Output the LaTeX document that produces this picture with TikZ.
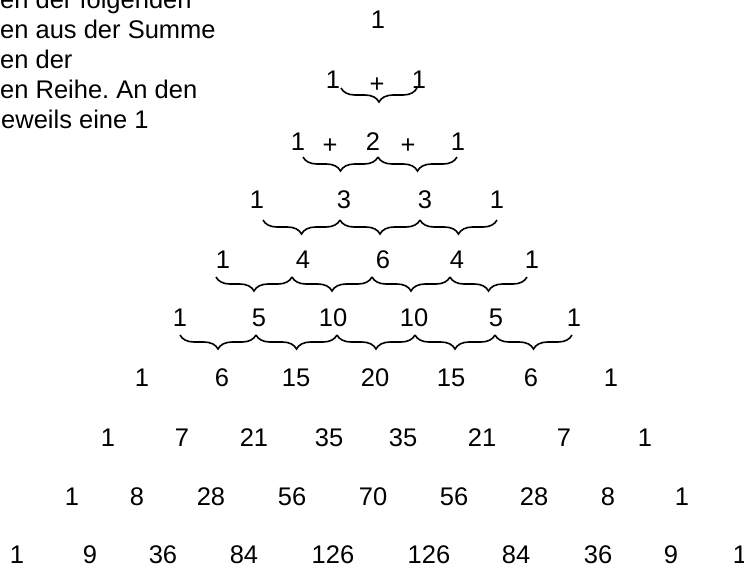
\documentclass[tikz,border=0pt]{standalone}
\usepackage{fontspec}
\setmainfont{Liberation Sans}
\usetikzlibrary{decorations.pathreplacing}
\frenchspacing

\begin{document}
\begin{tikzpicture}[x=1pt, y=-1pt,
    zahl/.style={inner sep=0pt, font=\fontsize{25.5}{29}\selectfont},
    erkl/.style={inner sep=0pt, anchor=base west, font=\fontsize{25.5}{29}\selectfont},
    klammer/.style={decorate, decoration={brace, mirror, amplitude=14pt}, line width=1.6pt}]
    \useasboundingbox (0,0) rectangle (744,566);
    \clip (0,0) rectangle (744,566);

    % Erklaerung (links oben, abgeschnitten)
    \node[erkl] (t1) at (0,8) {en der folgenden};
    \node[erkl] (t2) at (0,38) {en aus der Summe};
    \node[erkl] (t3) at (0,68) {en der};
    \node[erkl] (t4) at (0,98) {en Reihe. An den};
    \node[erkl] (t5) at (1,128) {eweils eine 1};

    % Reihe 0
    \node[zahl] (r0-1) at (378,20) {1};

    % Reihe 1
    \node[zahl] (r1-1) at (333,80) {1};
    \node[zahl] (p1-1) at (377,85) {+};
    \node[zahl] (r1-2) at (419,80) {1};
    \draw[klammer] (341,88) -- (417,88);

    % Reihe 2
    \node[zahl] (r2-1) at (298,142) {1};
    \node[zahl] (p2-1) at (330,146) {+};
    \node[zahl] (r2-2) at (373,142) {2};
    \node[zahl] (p2-2) at (408,146) {+};
    \node[zahl] (r2-3) at (458,142) {1};
    \foreach \a/\b in {303/378, 378/457}
        \draw[klammer] (\a,157) -- (\b,157);

    % Reihe 3
    \foreach \x/\z [count=\i] in {257/1, 344/3, 425/3, 497/1}
        \node[zahl] (r3-\i) at (\x,200) {\z};
    \foreach \a/\b in {263/340, 340/420, 420/497}
        \draw[klammer] (\a,220) -- (\b,220);

    % Reihe 4
    \foreach \x/\z [count=\i] in {223/1, 303/4, 383/6, 457/4, 532/1}
        \node[zahl] (r4-\i) at (\x,260) {\z};
    \foreach \a/\b in {216/292, 292/372, 372/450, 450/527}
        \draw[klammer] (\a,277) -- (\b,277);

    % Reihe 5
    \foreach \x/\z [count=\i] in {180/1, 259/5, 333/10, 414/10, 496/5, 574/1}
        \node[zahl] (r5-\i) at (\x,318) {\z};
    \foreach \a/\b in {180/256, 256/337, 337/415, 415/495, 495/572}
        \draw[klammer] (\a,335) -- (\b,335);

    % Reihe 6
    \foreach \x/\z [count=\i] in {142/1, 222/6, 296/15, 375/20, 451/15, 531/6, 611/1}
        \node[zahl] (r6-\i) at (\x,378) {\z};

    % Reihe 7
    \foreach \x/\z [count=\i] in {108/1, 182/7, 254/21, 329/35, 403/35, 482/21, 564/7, 645/1}
        \node[zahl] (r7-\i) at (\x,438) {\z};

    % Reihe 8
    \foreach \x/\z [count=\i] in {72/1, 137/8, 211/28, 292/56, 373/70, 454/56, 534/28, 608/8, 682/1}
        \node[zahl] (r8-\i) at (\x,497) {\z};

    % Reihe 9
    \foreach \x/\z [count=\i] in {17/1, 90/9, 163/36, 244/84, 333/126, 429/126, 516/84, 598/36, 671/9, 740/1}
        \node[zahl] (r9-\i) at (\x,555) {\z};
\end{tikzpicture}
\end{document}
